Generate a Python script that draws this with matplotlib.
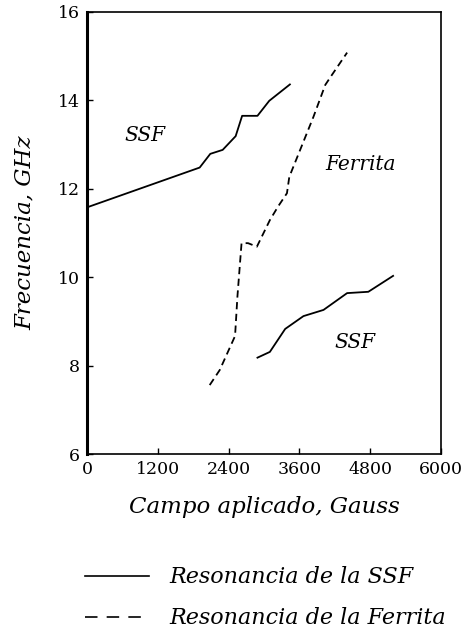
import matplotlib
matplotlib.use('Agg')
import matplotlib.pyplot as plt
from matplotlib.lines import Line2D

# Resonancia de la SSF (rama superior)
ssf_top_campo = [0, 1910, 2090, 2300, 2520, 2630, 2890, 3090, 3440]
ssf_top_freq = [11.58, 12.48, 12.79, 12.88, 13.19, 13.65, 13.65, 13.99, 14.36]

# Resonancia de la SSF (rama inferior)
ssf_low_campo = [2890, 3100, 3360, 3670, 4010, 4410, 4770, 5190]
ssf_low_freq = [8.18, 8.31, 8.83, 9.12, 9.26, 9.64, 9.67, 10.03]

# Resonancia de la Ferrita
ferr_campo = [2080, 2250, 2510, 2550, 2620, 2730, 2880, 3100, 3240, 3390, 3430, 3840, 4040, 4150, 4410]
ferr_freq = [7.56, 7.90, 8.67, 9.56, 10.77, 10.77, 10.69, 11.29, 11.60, 11.90, 12.27, 13.63, 14.35, 14.57, 15.08]

x_ticks = [0, 1200, 2400, 3600, 4800, 6000]
y_ticks = [6, 8, 10, 12, 14, 16]

plt.rcParams['font.family'] = ['DejaVu Serif']

fig = plt.figure(figsize=(4.68, 6.28), dpi=100)
ax = fig.add_axes([0.186, 0.277, 0.756, 0.704])

dash = (0, (4, 2.5))
ax.plot(ssf_top_campo, ssf_top_freq, color='black', lw=1.3)
ax.plot(ssf_low_campo, ssf_low_freq, color='black', lw=1.3)
ax.plot(ferr_campo, ferr_freq, color='black', lw=1.3, linestyle=dash)

ax.set_xlim(0, 6000)
ax.set_ylim(6, 16)
ax.set_xticks(x_ticks)
ax.set_yticks(y_ticks)
ax.tick_params(direction='in', length=4, width=1, labelsize=12.5, pad=5)
for side in ['top', 'right', 'bottom']:
    ax.spines[side].set_linewidth(1.2)
ax.spines['left'].set_linewidth(2.2)

# Etiquetas dentro del grafico
ax.text(980, 13.2, 'SSF', style='italic', fontsize=14.5, ha='center', va='center')
ax.text(4630, 12.54, 'Ferrita', style='italic', fontsize=14.5, ha='center', va='center')
ax.text(4550, 8.53, 'SSF', style='italic', fontsize=14.5, ha='center', va='center')

ax.set_xlabel('Campo aplicado, Gauss', style='italic', fontsize=16.5, labelpad=13)
ax.set_ylabel('Frecuencia, GHz', style='italic', fontsize=16.5, labelpad=16)

# Leyenda
h1 = Line2D([], [], color='black', lw=1.2)
h2 = Line2D([], [], color='black', lw=1.2, linestyle=(0, (7.5, 5.5)))
fig.legend([h1, h2], ['Resonancia de la SSF', 'Resonancia de la Ferrita'],
           loc='upper left', bbox_to_anchor=(0.148, 0.123), frameon=False,
           handlelength=2.9, handletextpad=0.9, labelspacing=0.86,
           borderpad=0.2, prop={'style': 'italic', 'size': 16})

fig.savefig('out.png', dpi=100)
